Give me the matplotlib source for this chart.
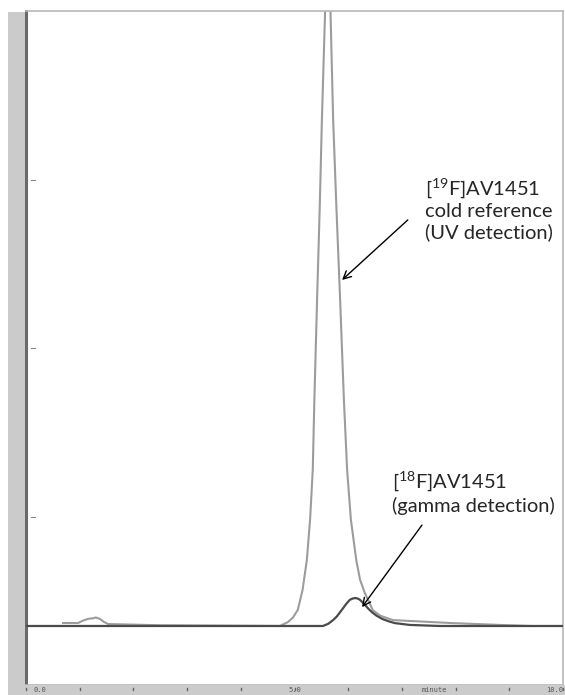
import matplotlib
matplotlib.use("Agg")
import matplotlib.pyplot as plt
from matplotlib.patches import Rectangle

# ---- data ----
uv_time = [0.69, 0.97, 1.06, 1.16, 1.25, 1.30, 1.38, 1.45, 1.53, 2.5, 3.5, 4.40,
           4.73, 4.88, 4.97, 5.06, 5.15, 5.23, 5.29, 5.34, 5.37, 5.42, 5.47, 5.51, 5.57, 5.62,
           5.67, 5.72, 5.78, 5.85, 5.92, 5.98, 6.05, 6.15, 6.22, 6.31, 6.46, 6.60, 6.83,
           7.15, 7.90, 8.83, 9.39]
uv_value = [1.2, 1.2, 5.0, 8.0, 8.9, 10.2, 7.7, 3.0, -0.5, -2.5, -3.0, -3.5,
            -3.7, 2.8, 10, 22.4, 55, 104, 170, 251, 365, 528, 680, 822, 1000, 1060,
            1000, 822, 680, 528, 365, 251, 170, 104, 72, 50, 22, 13, 6,
            4.5, 1.2, -2.0, -3.7]

gamma_time = [0.0, 2.0, 4.0, 5.53, 5.63, 5.72, 5.79, 5.85, 5.91, 5.96, 6.03, 6.08, 6.13,
              6.18, 6.22, 6.31, 6.37, 6.44, 6.53, 6.63, 6.75, 6.87, 7.15, 7.71, 9.0, 10.0]
gamma_value = [-3.7, -3.7, -3.7, -3.7, 0, 6, 12, 19, 26, 32, 39, 41, 42,
               41, 39, 31, 25, 19, 13, 8, 4, 1, -2, -3.7, -3.7, -3.7]

x_ticks = [0, 1, 2, 3, 4, 5, 6, 7, 8, 9, 10]
x_labels = {0: "0.0", 5: "5.0", 10: "10.0"}
y_ticks = [1000, 725, 450, 175, -100]

uv_label = "[$\\mathregular{^{19}}$F]AV1451\ncold reference\n(UV detection)"
gamma_label = "[$\\mathregular{^{18}}$F]AV1451\n(gamma detection)"

plt.rcParams['mathtext.fontset'] = 'custom'
plt.rcParams['mathtext.rm'] = 'Lato'

W, H = 565, 695
fig = plt.figure(figsize=(W / 100, H / 100), dpi=100)
fig.patch.set_facecolor("white")

# gray bands (left and bottom)
fig.patches.append(Rectangle((8 / W, 0), 17 / W, (H - 12) / H, transform=fig.transFigure,
                             facecolor="#cbcbcb", edgecolor="none", zorder=0))
fig.patches.append(Rectangle((8 / W, 0), (W - 8) / W, 10 / H, transform=fig.transFigure,
                             facecolor="#cbcbcb", edgecolor="none", zorder=0))

left, right, top, bottom = 26, 563, 11, 685
ax = fig.add_axes([left / W, (H - bottom) / H, (right - left) / W, (bottom - top) / H])
ax.set_xlim(0, 10)
ax.set_ylim(-100, 1000)

ax.plot(gamma_time, gamma_value, color="#4a4a4a", lw=1.6, zorder=3)
ax.plot(uv_time, uv_value, color="#9c9c9c", lw=1.5, zorder=2)

for s in ["top", "right", "bottom"]:
    ax.spines[s].set_color("#b8b8b8")
    ax.spines[s].set_linewidth(1.2)
ax.spines["left"].set_color("#6a6a6a")
ax.spines["left"].set_linewidth(2.2)

ax.set_xticks([])
ax.set_yticks([])

# tiny ticks/labels in the bottom band
ylab = (H - 690) / H
for t in x_ticks:
    xf = (left + t / 10 * (right - left)) / W
    fig.add_artist(plt.Line2D([xf, xf], [(H - 688) / H, (H - 689.5) / H],
                              transform=fig.transFigure, color="#666666", lw=1.0))
for t, lab in x_labels.items():
    xf = (left + t / 10 * (right - left)) / W
    ha = "right" if t == 10 else ("left" if t == 0 else "center")
    if t == 0:
        xf += 8 / W
    fig.text(xf, ylab, lab, ha=ha, va="center", fontsize=5, color="#555555",
             family="DejaVu Sans Mono")
fig.text((left + 0.76 * (right - left)) / W, ylab, "minute", ha="center", va="center",
         fontsize=5, color="#555555", family="DejaVu Sans Mono")

for v in y_ticks[1:-1]:
    ax.plot([0.1, 0.16], [v, v], color="#888888", lw=0.8, clip_on=False)
ax.text(-0.02, 1.0 - 0.003, "1000.0", transform=ax.transAxes, rotation=90, ha="right", va="top",
        fontsize=5, color="#555555", family="DejaVu Sans Mono")
ax.text(-0.02, 0.0, "-100.0", transform=ax.transAxes, rotation=90, ha="right", va="bottom",
        fontsize=5, color="#555555", family="DejaVu Sans Mono")
ax.text(-0.02, 450, "mV", transform=ax.get_yaxis_transform(), rotation=90, ha="right", va="center",
        fontsize=4, color="#555555", family="DejaVu Sans Mono")

# annotations
ax.text(7.43, 677, uv_label, fontsize=14.5, family="Lato", color="#262626",
        ha="left", va="center", linespacing=1.22)
ax.annotate("", xy=(5.885, 561), xytext=(7.11, 659),
            arrowprops=dict(arrowstyle="->", color="black", lw=1.0, shrinkA=0, shrinkB=0,
                            mutation_scale=14))
ax.text(6.82, 215, gamma_label, fontsize=14.5, family="Lato", color="#262626",
        ha="left", va="center", linespacing=1.22)
ax.annotate("", xy=(6.257, 27), xytext=(7.374, 161),
            arrowprops=dict(arrowstyle="->", color="black", lw=1.0, shrinkA=0, shrinkB=0,
                            mutation_scale=14))

fig.savefig("out.png", dpi=100)
